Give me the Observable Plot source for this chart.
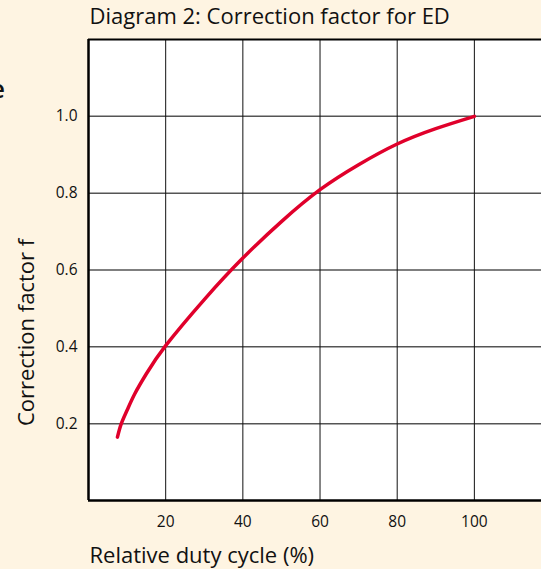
<!DOCTYPE html>
<html>
<head>
<meta charset="utf-8">
<script src="https://cdn.jsdelivr.net/npm/d3@7"></script>
<script src="https://cdn.jsdelivr.net/npm/@observablehq/plot@0.6"></script>
<style>
  html, body { margin: 0; padding: 0; background: #FEF4E2; overflow: hidden; }
</style>
</head>
<body>
<div id="chart"></div>
<script>
const title = "Diagram 2: Correction factor for ED";
const xLabel = "Relative duty cycle (%)";
const yLabel = "Correction factor f";
const xTicks = [20, 40, 60, 80, 100];
const yTicks = [0.2, 0.4, 0.6, 0.8, 1.0];
const duty =   [7.5, 8.5, 10, 12, 15, 20, 30, 40, 50, 60, 70, 80, 90, 100];
const factor = [0.165, 0.20, 0.235, 0.278, 0.330, 0.403, 0.523, 0.631, 0.726, 0.809, 0.874, 0.928, 0.968, 1.0];

const data = duty.map((d, i) => ({duty: d, f: factor[i]}));

const chart = Plot.plot({
  width: 541,
  height: 569,
  marginTop: 39,
  marginBottom: 69,
  marginLeft: 88,
  marginRight: 0,
  style: {background: "#FEF4E2", fontFamily: "'Open Sans', sans-serif", fontSize: "15.5px", color: "#111"},
  x: {domain: [0, 117.4], label: null},
  y: {domain: [0, 1.2], label: null},
  marks: [
    Plot.frame({fill: "white", stroke: null}),
    Plot.ruleY(yTicks, {stroke: "#555", strokeWidth: 1.5}),
    Plot.ruleX(xTicks, {stroke: "#111", strokeWidth: 1}),
    Plot.ruleX([0], {stroke: "#000", strokeWidth: 2.5}),
    Plot.ruleY([0], {stroke: "#000", strokeWidth: 2.5}),
    Plot.ruleY([1.2], {stroke: "#000", strokeWidth: 2}),
    Plot.line(data, {x: "duty", y: "f", stroke: "#E0002B", strokeWidth: 3.5, curve: "natural"}),
    Plot.axisX({ticks: xTicks, tickSize: 0, tickPadding: 15, tickFormat: d => String(d), label: null, fontSize: 15.5}),
    Plot.axisY({ticks: yTicks, tickSize: 0, tickPadding: 11, tickFormat: d3.format(".1f"), label: null, fontSize: 15.5}),
    Plot.text([title], {frameAnchor: "top-left", dx: 1, dy: -22.7, text: d => d, textAnchor: "start", lineAnchor: "middle", fontSize: 22, fill: "#111"}),
    Plot.text([xLabel], {frameAnchor: "bottom-left", dx: 1, dy: 55, text: d => d, textAnchor: "start", lineAnchor: "middle", fontSize: 22, fill: "#111"}),
    Plot.text([yLabel], {frameAnchor: "left", dx: -62, dy: 62.5, rotate: -90, text: d => d, textAnchor: "middle", lineAnchor: "middle", fontSize: 22, fill: "#111"}),
    Plot.text(["e"], {frameAnchor: "top-left", dx: -83.5, dy: 50, text: d => d, textAnchor: "end", lineAnchor: "middle", fontSize: 26, fontWeight: 600, fill: "#111"})
  ]
});
document.getElementById("chart").appendChild(chart);
</script>
</body>
</html>
